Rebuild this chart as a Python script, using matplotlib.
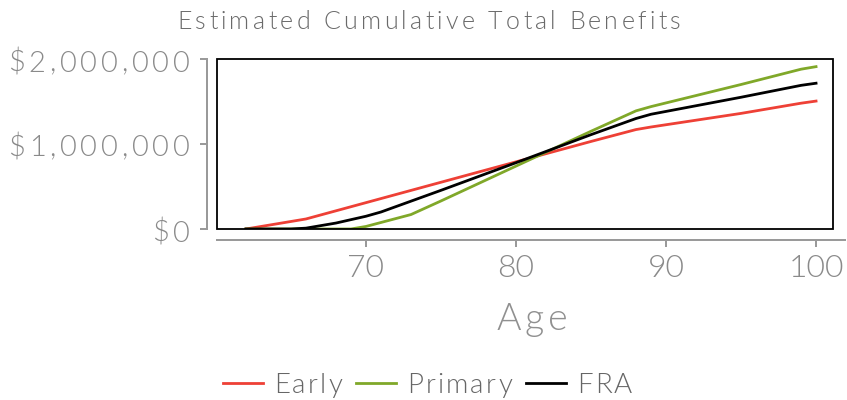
import matplotlib
matplotlib.use('Agg')
import matplotlib.pyplot as plt
from matplotlib.patches import Rectangle
from matplotlib.lines import Line2D
from matplotlib.font_manager import FontProperties
from matplotlib.transforms import IdentityTransform

plt.rcParams['font.family'] = ['Lato', 'DejaVu Sans']
plt.rcParams['font.weight'] = 300

# values in dollars
early_age = [62, 66, 70, 75, 80, 85, 88, 89, 95, 99, 100]
early_val = [0, 118000, 310000, 550000, 790000, 1030000, 1170000, 1200000, 1360000, 1480000, 1505000]

primary_age = [62, 69, 70, 73, 75, 80, 85, 88, 89, 95, 99, 100]
primary_val = [0, 0, 30000, 170000, 330000, 740000, 1150000, 1390000, 1440000, 1700000, 1880000, 1910000]

fra_age = [62, 65, 66, 67, 68, 69, 70, 71, 75, 80, 85, 88, 89, 95, 99, 100]
fra_val = [0, 0, 10000, 40000, 70000, 110000, 150000, 200000, 455000, 780000, 1110000, 1300000,
           1350000, 1550000, 1690000, 1715000]

x_ticks = [70, 80, 90, 100]
y_ticks = [0, 1000000, 2000000]
y_labels = ['$0', '$1,000,000', '$2,000,000']

grey = '#9a9a9a'
PX = 72 / 100.0  # points per pixel

fig = plt.figure(figsize=(8.47, 4.0), dpi=100)
ax = fig.add_axes([217/847, 171/400, 616/847, 170/400])
renderer = fig.canvas.get_renderer()


def spaced(x, y, s, size, spacing, color, ha='center', draw=True):
    # text with extra letter spacing, x/y in pixels, y is the baseline
    fp = FontProperties(family=['Lato', 'DejaVu Sans'], weight=300, size=size)
    w = lambda t: renderer.get_text_width_height_descent(t, fp, ismath=False)[0]
    total = w(s) + spacing * (len(s) - 1)
    if not draw:
        return total
    x0 = {'center': x - total / 2, 'right': x - total, 'left': x}[ha]
    for i, ch in enumerate(s):
        if ch == ' ':
            continue
        pos = w(s[:i + 1]) - w(ch) + i * spacing
        fig.text(x0 + pos, y, ch, transform=IdentityTransform(), fontproperties=fp,
                 color=color, ha='left', va='baseline')
    return total


lines = []
lines += ax.plot(early_age, early_val, color='#ee4036', lw=2, label='Early')
lines += ax.plot(primary_age, primary_val, color='#80a829', lw=2, label='Primary')
lines += ax.plot(fra_age, fra_val, color='black', lw=2, label='FRA')

ax.set_xlim(60.07, 101.13)
ax.set_ylim(0, 2000000)
ax.set_xticks(x_ticks)
ax.set_yticks(y_ticks)
ax.tick_params(axis='y', labelleft=False)

for s in ['top', 'right']:
    ax.spines[s].set_visible(False)
ax.spines['left'].set_position(('outward', 10 * PX))
ax.spines['bottom'].set_position(('outward', 11 * PX))
for s in ['left', 'bottom']:
    ax.spines[s].set_color(grey)
    ax.spines[s].set_linewidth(2 * PX)
ax.spines['bottom'].set_bounds(60.07, 101.9)
ax.add_patch(Rectangle((0, 0), 1, 1, transform=ax.transAxes, fill=False,
                       edgecolor='black', lw=1.3, clip_on=False, zorder=5))

ax.tick_params(axis='both', colors=grey, width=2 * PX, length=7 * PX, labelcolor='#8a8a8a')
ax.tick_params(axis='x', labelsize=23, pad=5)

# y tick labels
for v, lab in zip(y_ticks, y_labels):
    px, py = ax.transData.transform((60.07, v))
    spaced(190, py - 12.5, lab, 21, 3.8, '#8a8a8a', ha='right')

# x axis title
spaced(532, 400 - 330, 'Age', 27, 4, '#909090')

# chart title
spaced(429, 400 - 29, 'Estimated Cumulative Total Benefits', 18, 3.3, '#6a6a6a')

# legend along the bottom, letter-spaced like the other text
leg_size, leg_sp, handle_len, gap_in, gap_out = 20, 2.2, 40, 11, 14
widths = [spaced(0, 0, ln.get_label(), leg_size, leg_sp, None, draw=False) for ln in lines]
total = sum(handle_len + gap_in + w for w in widths) + gap_out * (len(lines) - 1)
x = 427.5 - total / 2
yc = 400 - 383
for ln, w in zip(lines, widths):
    fig.add_artist(Line2D([x, x + handle_len], [yc, yc], transform=IdentityTransform(),
                          color=ln.get_color(), lw=2))
    x += handle_len + gap_in
    spaced(x, yc - 10, ln.get_label(), leg_size, leg_sp, '#666666', ha='left')
    x += w + gap_out

fig.savefig('out.png', dpi=100)
